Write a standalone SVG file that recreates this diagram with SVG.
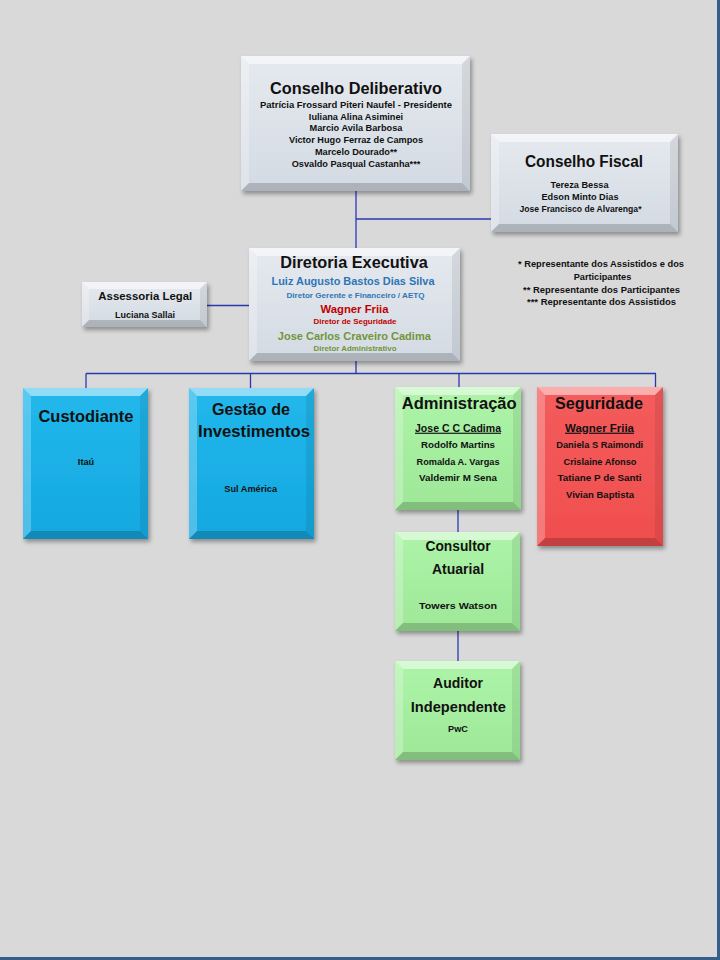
<svg xmlns="http://www.w3.org/2000/svg" width="720" height="960" viewBox="0 0 720 960">
<style>
text{font-family:"Liberation Sans",Arial,sans-serif;font-weight:bold;fill:#111;text-anchor:middle}
.t1{font-size:16.3px}
.t2{font-size:14px}
.t3{font-size:11.5px}
.s{font-size:9.2px}
.r{font-size:7.2px}
.u{text-decoration:underline}
.blue{fill:#2e75b6}
.red{fill:#c00000}
.grn{fill:#72953a}
.bt{fill:#fff;opacity:.5}
.bl{fill:#fff;opacity:.25}
.br{fill:#000;opacity:.08}
.bb{fill:#000;opacity:.18}
.con path{stroke:#2a38b0;stroke-width:1.3;fill:none}
.gray{fill:url(#gGray)}
.cyan{fill:url(#gBlue)}
.green{fill:url(#gGreen)}
.rd{fill:url(#gRed)}
.sh{filter:url(#shadow)}
</style>
<defs>
<filter id="shadow" x="-10%" y="-10%" width="130%" height="130%">
<feDropShadow dx="2" dy="3" stdDeviation="2" flood-color="#000" flood-opacity="0.35"/>
</filter>
<linearGradient id="gGray" x1="0" y1="0" x2="0" y2="1">
<stop offset="0" stop-color="#e6eaef"/><stop offset="1" stop-color="#d3dae3"/>
</linearGradient>
<linearGradient id="gBlue" x1="0" y1="0" x2="0" y2="1">
<stop offset="0" stop-color="#22b8ec"/><stop offset="1" stop-color="#14a8e0"/>
</linearGradient>
<linearGradient id="gGreen" x1="0" y1="0" x2="0" y2="1">
<stop offset="0" stop-color="#adf4a8"/><stop offset="1" stop-color="#9ee898"/>
</linearGradient>
<linearGradient id="gRed" x1="0" y1="0" x2="0" y2="1">
<stop offset="0" stop-color="#f45c5c"/><stop offset="1" stop-color="#f04e4e"/>
</linearGradient>
</defs>
<rect x="0" y="0" width="720" height="960" fill="#d9d9d9"/>
<rect x="717" y="0" width="3" height="960" fill="#375d8a"/>
<rect x="0" y="957" width="720" height="3" fill="#375d8a"/>

<g class="con">
<path d="M356 191V248"/>
<path d="M356 219H491"/>
<path d="M207 305.5H249"/>
<path d="M356 361V373.5"/>
<path d="M86 373.5H656"/>
<path d="M86 373.5V388"/>
<path d="M250.5 373.5V388"/>
<path d="M459 373.5V387"/>
<path d="M655.5 373.5V387"/>
<path d="M458 510V532"/>
<path d="M458 631V661"/>
</g>

<g id="conselho-deliberativo">
<rect class="gray sh" x="241" y="56" width="229" height="135"/>
<polygon class="bt" points="241,56 470,56 462,64 249,64"/>
<polygon class="bl" points="241,56 249,64 249,183 241,191"/>
<polygon class="br" points="470,56 470,191 462,183 462,64"/>
<polygon class="bb" points="241,191 249,183 462,183 470,191"/>
<text class="t1" x="356" y="94">Conselho Deliberativo</text>
<text class="s" x="356" y="108" textLength="192" lengthAdjust="spacingAndGlyphs">Patrícia Frossard Piteri Naufel - Presidente</text>
<text class="s" x="356" y="119.7">Iuliana Alina Asiminei</text>
<text class="s" x="356" y="131.4">Marcio Avila Barbosa</text>
<text class="s" x="356" y="143.1">Victor Hugo Ferraz de Campos</text>
<text class="s" x="356" y="154.8">Marcelo Dourado**</text>
<text class="s" x="356" y="166.5">Osvaldo Pasqual Castanha***</text>
</g>

<g id="conselho-fiscal">
<rect class="gray sh" x="491" y="134" width="187" height="98"/>
<polygon class="bt" points="491,134 678,134 670,142 499,142"/>
<polygon class="bl" points="491,134 499,142 499,224 491,232"/>
<polygon class="br" points="678,134 678,232 670,224 670,142"/>
<polygon class="bb" points="491,232 499,224 670,224 678,232"/>
<text class="t1" x="584" y="166.5" textLength="118" lengthAdjust="spacingAndGlyphs">Conselho Fiscal</text>
<text class="s" x="579.5" y="188.3">Tereza Bessa</text>
<text class="s" x="580" y="200">Edson Minto Dias</text>
<text class="s" x="580.5" y="211.5" textLength="122" lengthAdjust="spacingAndGlyphs">Jose Francisco de Alvarenga*</text>
</g>

<g id="notas">
<text class="s" x="601" y="267" textLength="166" lengthAdjust="spacingAndGlyphs">* Representante dos Assistidos e dos</text>
<text class="s" x="602.5" y="280">Participantes</text>
<text class="s" x="601.5" y="293" textLength="157" lengthAdjust="spacingAndGlyphs">** Representante dos Participantes</text>
<text class="s" x="601.5" y="305" textLength="149" lengthAdjust="spacingAndGlyphs">*** Representante dos Assistidos</text>
</g>

<g id="diretoria-executiva">
<rect class="gray sh" x="249" y="248" width="211" height="113"/>
<polygon class="bt" points="249,248 460,248 452,256 257,256"/>
<polygon class="bl" points="249,248 257,256 257,353 249,361"/>
<polygon class="br" points="460,248 460,361 452,353 452,256"/>
<polygon class="bb" points="249,361 257,353 452,353 460,361"/>
<text class="t1" x="354" y="267.5">Diretoria Executiva</text>
<text class="t3 blue" x="353" y="285" textLength="163" lengthAdjust="spacingAndGlyphs">Luiz Augusto Bastos Dias Silva</text>
<text class="r blue" x="355.5" y="297.5" textLength="138" lengthAdjust="spacingAndGlyphs">Diretor Gerente e Financeiro / AETQ</text>
<text class="t3 red" x="354.5" y="312.5" textLength="68" lengthAdjust="spacingAndGlyphs">Wagner Friia</text>
<text class="r red" x="355" y="324.3" textLength="83" lengthAdjust="spacingAndGlyphs">Diretor de Seguridade</text>
<text class="t3 grn" x="354.3" y="340" textLength="153" lengthAdjust="spacingAndGlyphs">Jose Carlos Craveiro Cadima</text>
<text class="r grn" x="355" y="351.3" textLength="83" lengthAdjust="spacingAndGlyphs">Diretor Administrativo</text>
</g>

<g id="assessoria-legal">
<rect class="gray sh" x="82" y="282" width="125" height="45"/>
<polygon class="bt" points="82,282 207,282 200,289 89,289"/>
<polygon class="bl" points="82,282 89,289 89,320 82,327"/>
<polygon class="br" points="207,282 207,327 200,320 200,289"/>
<polygon class="bb" points="82,327 89,320 200,320 207,327"/>
<text class="t3" x="145.3" y="300" textLength="94" lengthAdjust="spacingAndGlyphs">Assessoria Legal</text>
<text class="s" x="145" y="317.5" textLength="60" lengthAdjust="spacingAndGlyphs">Luciana Sallai</text>
</g>

<g id="custodiante">
<rect class="cyan sh" x="23" y="388" width="125" height="151"/>
<polygon class="bt" points="23,388 148,388 140,396 31,396"/>
<polygon class="bl" points="23,388 31,396 31,531 23,539"/>
<polygon class="br" points="148,388 148,539 140,531 140,396"/>
<polygon class="bb" points="23,539 31,531 140,531 148,539"/>
<text class="t1" x="86" y="421.7" textLength="95" lengthAdjust="spacingAndGlyphs">Custodiante</text>
<text class="s" x="86" y="465">Itaú</text>
</g>

<g id="gestao-investimentos">
<rect class="cyan sh" x="189" y="388" width="125" height="151"/>
<polygon class="bt" points="189,388 314,388 306,396 197,396"/>
<polygon class="bl" points="189,388 197,396 197,531 189,539"/>
<polygon class="br" points="314,388 314,539 306,531 306,396"/>
<polygon class="bb" points="189,539 197,531 306,531 314,539"/>
<text class="t1" x="251" y="415" textLength="78" lengthAdjust="spacingAndGlyphs">Gestão de</text>
<text class="t1" x="254" y="436.7" textLength="112" lengthAdjust="spacingAndGlyphs">Investimentos</text>
<text class="s" x="250.7" y="491.7">Sul América</text>
</g>

<g id="administracao">
<rect class="green sh" x="395" y="387" width="126" height="123"/>
<polygon class="bt" points="395,387 521,387 513,395 403,395"/>
<polygon class="bl" points="395,387 403,395 403,502 395,510"/>
<polygon class="br" points="521,387 521,510 513,502 513,395"/>
<polygon class="bb" points="395,510 403,502 513,502 521,510"/>
<text class="t1" x="459.2" y="409.3" textLength="115" lengthAdjust="spacingAndGlyphs">Administração</text>
<text class="t3 u" x="458" y="431.7" textLength="86" lengthAdjust="spacingAndGlyphs">Jose C C Cadima</text>
<text class="s" x="458" y="448.3" textLength="74" lengthAdjust="spacingAndGlyphs">Rodolfo Martins</text>
<text class="s" x="458" y="465" textLength="83" lengthAdjust="spacingAndGlyphs">Romalda A. Vargas</text>
<text class="s" x="458" y="480.7" textLength="78" lengthAdjust="spacingAndGlyphs">Valdemir M Sena</text>
</g>

<g id="seguridade">
<rect class="rd sh" x="537" y="387" width="126" height="159"/>
<polygon class="bt" points="537,387 663,387 655,395 545,395"/>
<polygon class="bl" points="537,387 545,395 545,538 537,546"/>
<polygon class="br" points="663,387 663,546 655,538 655,395"/>
<polygon class="bb" points="537,546 545,538 655,538 663,546"/>
<text class="t1" x="599" y="409.3" textLength="88" lengthAdjust="spacingAndGlyphs">Seguridade</text>
<text class="t3 u" x="599.5" y="431.7" textLength="69" lengthAdjust="spacingAndGlyphs">Wagner Friia</text>
<text class="s" x="599.7" y="448.3" textLength="87" lengthAdjust="spacingAndGlyphs">Daniela S Raimondi</text>
<text class="s" x="600" y="465" textLength="73" lengthAdjust="spacingAndGlyphs">Crislaine Afonso</text>
<text class="s" x="599.5" y="481" textLength="84" lengthAdjust="spacingAndGlyphs">Tatiane P de Santi</text>
<text class="s" x="600" y="498" textLength="68" lengthAdjust="spacingAndGlyphs">Vivian Baptista</text>
</g>

<g id="consultor-atuarial">
<rect class="green sh" x="395" y="532" width="125" height="99"/>
<polygon class="bt" points="395,532 520,532 512,540 403,540"/>
<polygon class="bl" points="395,532 403,540 403,623 395,631"/>
<polygon class="br" points="520,532 520,631 512,623 512,540"/>
<polygon class="bb" points="395,631 403,623 512,623 520,631"/>
<text class="t2" x="458" y="550.7" textLength="65" lengthAdjust="spacingAndGlyphs">Consultor</text>
<text class="t2" x="458" y="574">Atuarial</text>
<text class="s" x="458" y="609.3" textLength="78" lengthAdjust="spacingAndGlyphs">Towers Watson</text>
</g>

<g id="auditor-independente">
<rect class="green sh" x="395" y="661" width="125" height="99"/>
<polygon class="bt" points="395,661 520,661 512,669 403,669"/>
<polygon class="bl" points="395,661 403,669 403,752 395,760"/>
<polygon class="br" points="520,661 520,760 512,752 512,669"/>
<polygon class="bb" points="395,760 403,752 512,752 520,760"/>
<text class="t2" x="458" y="688.3">Auditor</text>
<text class="t2" x="458.3" y="711.7" textLength="95" lengthAdjust="spacingAndGlyphs">Independente</text>
<text class="s" x="458" y="731.7">PwC</text>
</g>
</svg>
